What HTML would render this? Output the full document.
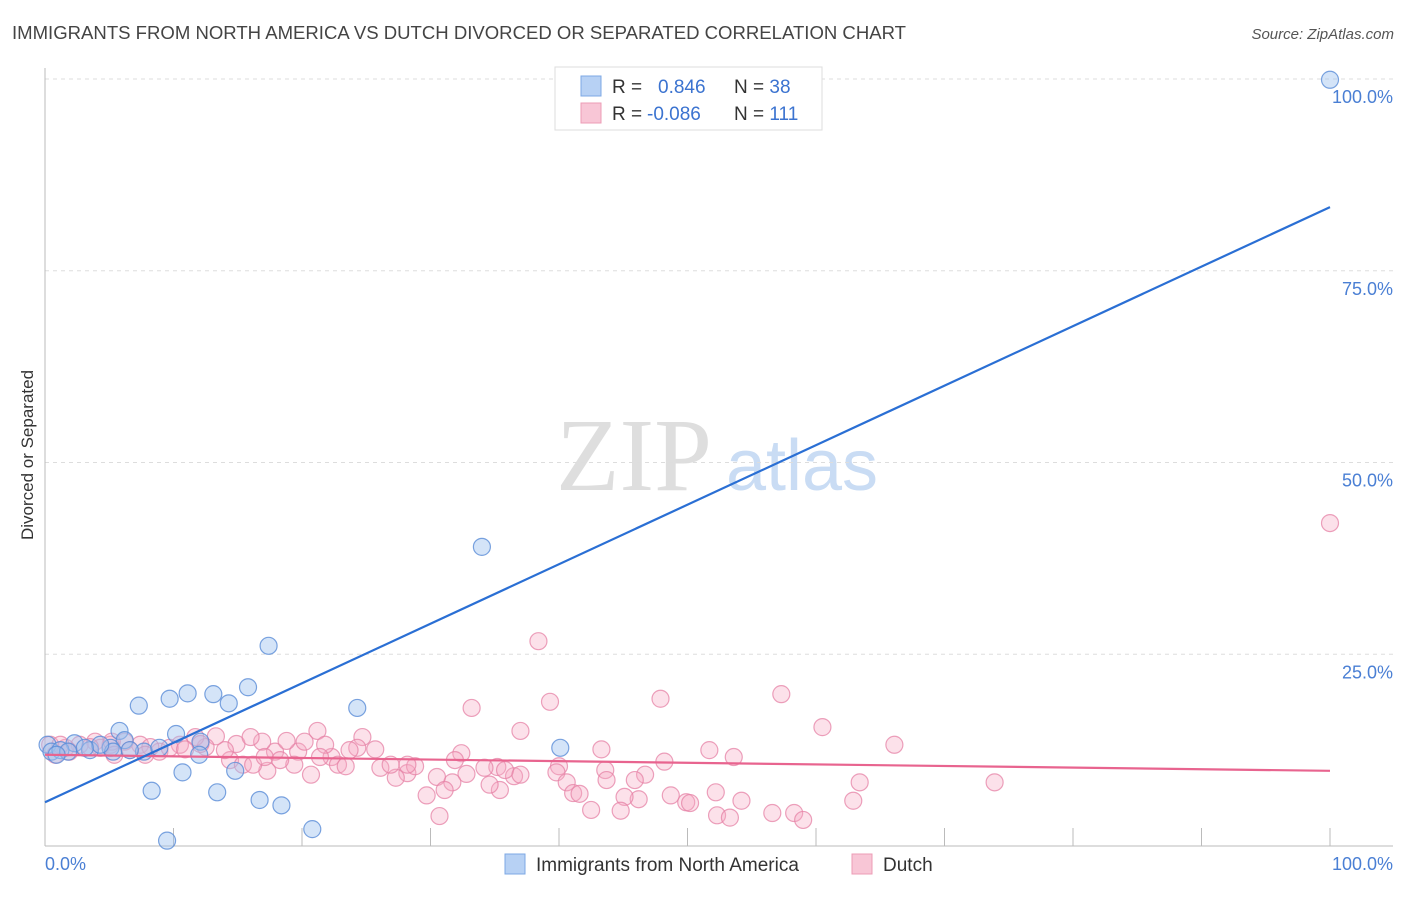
<!DOCTYPE html>
<html><head><meta charset="utf-8"><style>
body{margin:0;background:#fff;width:1406px;height:892px;overflow:hidden;font-family:"Liberation Sans",sans-serif}
</style></head><body>
<svg width="1406" height="892" xmlns="http://www.w3.org/2000/svg">
<text x="12" y="39" font-size="18" fill="#444" textLength="894" lengthAdjust="spacingAndGlyphs">IMMIGRANTS FROM NORTH AMERICA VS DUTCH DIVORCED OR SEPARATED CORRELATION CHART</text>
<text x="1394" y="39" font-size="15" fill="#555" font-style="italic" text-anchor="end">Source: ZipAtlas.com</text>
<g>
<text x="634" y="490" font-size="104" font-family="Liberation Serif,serif" fill="#dedede" text-anchor="middle">ZIP</text>
<text x="802" y="490" font-size="72" fill="#c9dcf4" text-anchor="middle">atlas</text>
</g>
<g id="grid"></g>
<line x1="45" y1="68" x2="45" y2="846" stroke="#bbb"/>
<line x1="45" y1="846" x2="1393" y2="846" stroke="#bbb"/>
<text transform="translate(33,455) rotate(-90)" font-size="17" fill="#333" text-anchor="middle">Divorced or Separated</text>
<text x="45" y="870" font-size="18" fill="#4a7fd4">0.0%</text>
<text x="1393" y="870" font-size="18" fill="#4a7fd4" text-anchor="end">100.0%</text>
<g id="pts"></g>
<g id="lines"></g>
<g>
<rect x="555" y="67" width="267" height="63" fill="#fff" stroke="#ddd"/>
<rect x="581" y="76" width="20" height="20" fill="#b7d1f4" stroke="#7ea8e4"/>
<rect x="581" y="103" width="20" height="20" fill="#f8c6d6" stroke="#ec9cb6"/>
<text x="612" y="93" font-size="19" fill="#333">R = <tspan fill="#3b73d0" x="658">0.846</tspan><tspan fill="#333" x="734">N = </tspan><tspan fill="#3b73d0">38</tspan></text>
<text x="612" y="120" font-size="19" fill="#333">R = <tspan fill="#3b73d0" x="647">-0.086</tspan><tspan fill="#333" x="734">N = </tspan><tspan fill="#3b73d0">111</tspan></text>
</g>
<g>
<rect x="505" y="854" width="20" height="20" fill="#b7d1f4" stroke="#7ea8e4"/>
<text x="536" y="871" font-size="19" fill="#333">Immigrants from North America</text>
<rect x="852" y="854" width="20" height="20" fill="#f8c6d6" stroke="#ec9cb6"/>
<text x="883" y="871" font-size="19" fill="#333">Dutch</text>
</g>
</svg>
<script>
const yTicks=[25,50,75,100];
const yTickLabels=["25.0%","50.0%","75.0%","100.0%"];
const xTicks=[10,20,30,40,50,60,70,80,90,100];
const blueX=[100,34.0,17.4,15.8,11.1,13.1,9.7,14.3,7.3,24.3,5.8,10.2,6.2,40.1,12.1,2.3,0.2,0.5,1.2,3.5,5.1,7.7,8.9,12.0,5.3,1.8,10.7,14.8,8.3,13.4,16.7,18.4,20.8,9.5,6.6,4.3,3.1,0.9];
const blueY=[99.9,39.0,26.1,20.7,19.9,19.8,19.2,18.6,18.3,18.0,15.0,14.6,13.8,12.8,13.6,13.4,13.2,12.3,12.5,12.5,12.8,12.3,12.8,11.9,12.3,12.3,9.6,9.8,7.2,7.0,6.0,5.3,2.2,0.7,12.5,13.2,12.8,11.9];
const pinkX=[100,38.4,57.3,47.9,39.3,33.2,60.5,37.0,66.1,21.2,24.7,43.3,51.7,53.6,32.4,40.0,48.2,73.9,63.4,62.9,36.5,32.8,35.2,35.8,39.8,43.6,46.7,45.9,40.6,41.1,41.6,46.2,45.1,48.7,49.9,52.2,54.2,52.3,53.3,56.6,58.3,59.0,50.2,44.8,42.5,35.4,34.6,31.7,30.5,28.2,27.3,29.7,30.7,31.1,28.8,28.2,26.1,25.7,24.3,22.3,22.8,23.4,20.7,19.7,19.4,17.3,17.9,16.9,14.9,14.4,15.4,16.2,14.0,13.3,20.2,21.8,18.8,12.5,11.7,10.5,8.9,7.4,6.2,5.1,3.9,2.7,1.6,0.4,0.8,1.9,4.3,6.6,8.2,9.7,10.9,5.2,3.5,1.2,12.1,17.1,23.7,26.9,31.9,34.2,37.0,43.7,5.4,7.8,18.3,16.0,21.4];
const pinkY=[42.1,26.7,19.8,19.2,18.8,18.0,15.5,15.0,13.2,15.0,14.2,12.6,12.5,11.6,12.1,10.4,11.0,8.3,8.3,5.9,9.1,9.4,10.3,9.9,9.6,9.9,9.3,8.6,8.3,6.9,6.8,6.1,6.4,6.6,5.7,7.0,5.9,4.0,3.7,4.3,4.3,3.4,5.6,4.6,4.7,7.3,8.0,8.3,9.0,9.5,8.9,6.6,3.9,7.3,10.4,10.6,10.2,12.6,12.8,11.6,10.6,10.4,9.3,12.3,10.6,9.8,12.3,13.6,13.3,11.2,10.6,10.6,12.5,14.3,13.6,13.2,13.7,12.9,14.2,13.2,12.3,13.2,13.6,13.2,13.6,13.2,12.8,13.2,11.9,12.3,12.8,12.5,12.9,12.8,12.6,13.6,12.9,13.2,13.3,11.6,12.5,10.6,11.2,10.2,9.3,8.6,11.9,11.9,11.2,14.2,11.6];
const blueLine=[5.7,83.3];
const pinkLine=[11.9,9.8];
const NS="http://www.w3.org/2000/svg";
function sx(v){return 45+v*12.85;}
function sy(v){return 846-v*7.67;}
const grid=document.getElementById('grid');
yTicks.forEach((t,i)=>{
 const l=document.createElementNS(NS,'line');
 l.setAttribute('x1',45);l.setAttribute('x2',1393);l.setAttribute('y1',sy(t));l.setAttribute('y2',sy(t));
 l.setAttribute('stroke','#ddd');l.setAttribute('stroke-dasharray','4,4');
 
 
 grid.appendChild(l);
 const tx=document.createElementNS(NS,'text');
 tx.setAttribute('x',1393);tx.setAttribute('y',sy(t)+24);tx.setAttribute('text-anchor','end');
 tx.setAttribute('font-size','18');tx.setAttribute('fill','#4a7fd4');tx.textContent=yTickLabels[i];
 
 
 grid.appendChild(tx);
});
xTicks.forEach(t=>{
 const l=document.createElementNS(NS,'line');
 l.setAttribute('x1',sx(t));l.setAttribute('x2',sx(t));l.setAttribute('y1',828);l.setAttribute('y2',846);
 l.setAttribute('stroke','#bbb');
 
 
 grid.appendChild(l);
});
const pts=document.getElementById('pts');
function dots(xs,ys,fill,stroke,name){
 xs.forEach((x,i)=>{
  const c=document.createElementNS(NS,'circle');
  c.setAttribute('cx',sx(x));c.setAttribute('cy',sy(ys[i]));c.setAttribute('r',8.5);
  c.setAttribute('fill',fill);c.setAttribute('stroke',stroke);c.setAttribute('stroke-width','1.2');
  
  
  pts.appendChild(c);
 });
}
dots(pinkX,pinkY,'rgba(246,170,196,0.35)','rgba(230,130,165,0.75)','dutch-point');
dots(blueX,blueY,'rgba(160,196,240,0.45)','rgba(90,140,215,0.8)','immigrants-point');
const lines=document.getElementById('lines');
function ln(v,color,name){
 const l=document.createElementNS(NS,'line');
 l.setAttribute('x1',sx(0));l.setAttribute('y1',sy(v[0]));l.setAttribute('x2',sx(100));l.setAttribute('y2',sy(v[1]));
 l.setAttribute('stroke',color);l.setAttribute('stroke-width','2.2');
 
 
 lines.appendChild(l);
}
ln(pinkLine,'#e8648f','dutch-trendline');
ln(blueLine,'#2a6fd4','immigrants-trendline');
</script>
</body></html>
